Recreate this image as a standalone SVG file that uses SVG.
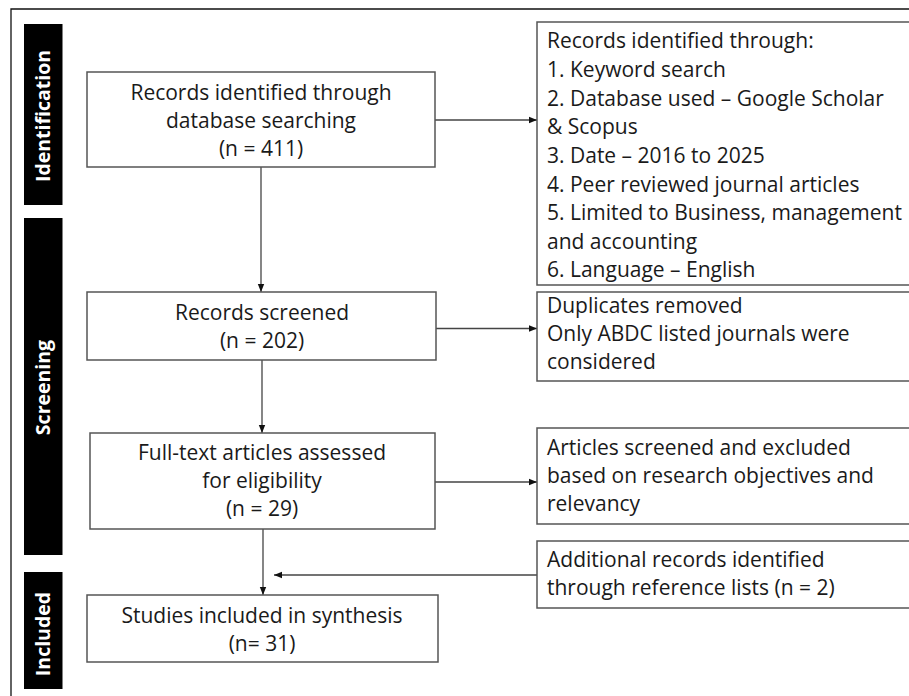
<svg xmlns="http://www.w3.org/2000/svg" width="909" height="696" viewBox="0 0 909 696">
<style>
  .box { fill: #fff; stroke: #555; stroke-width: 1.5; }
  .bar { fill: #000; }
  .t { font-family: "Open Sans", "Noto Sans", sans-serif; font-size: 21px; fill: #1a1a1a; }
  .c { text-anchor: middle; }
  .side { font-family: "Open Sans", "Noto Sans", sans-serif; font-size: 19.5px; font-weight: bold; fill: #fff; text-anchor: middle; }
  .conn { stroke: #444; stroke-width: 1.3; fill: none; }
</style>
<defs>
  <marker id="arr" viewBox="0 0 8 8" refX="8" refY="4" markerWidth="8" markerHeight="8" markerUnits="userSpaceOnUse" orient="auto">
    <path d="M0,0.8 L8,4 L0,7.2 Z" fill="#111"/>
  </marker>
</defs>
<rect x="0" y="0" width="909" height="696" fill="#fff"/>
<g id="frame">
  <path d="M11,696 L11,9 L909,9" fill="none" stroke="#111" stroke-width="1.3"/>
</g>
<g id="bar-identification">
  <rect class="bar" x="24" y="24" width="38.5" height="181"/>
  <text class="side" transform="translate(50,116) rotate(-90)">Identification</text>
</g>
<g id="bar-screening">
  <rect class="bar" x="24" y="218" width="38.5" height="337"/>
  <text class="side" transform="translate(50,387.5) rotate(-90)">Screening</text>
</g>
<g id="bar-included">
  <rect class="bar" x="24" y="572" width="38.5" height="117"/>
  <text class="side" transform="translate(50,634) rotate(-90)">Included</text>
</g>
<g id="connectors">
  <line class="conn" x1="261" y1="167" x2="261" y2="292" marker-end="url(#arr)"/>
  <line class="conn" x1="262" y1="360" x2="262" y2="433" marker-end="url(#arr)"/>
  <line class="conn" x1="263" y1="529" x2="263" y2="595" marker-end="url(#arr)"/>
  <line class="conn" x1="435" y1="120" x2="537" y2="120" marker-end="url(#arr)"/>
  <line class="conn" x1="436" y1="328.5" x2="537" y2="328.5" marker-end="url(#arr)"/>
  <line class="conn" x1="435" y1="482" x2="537" y2="482" marker-end="url(#arr)"/>
  <line class="conn" x1="537" y1="575" x2="274" y2="575" marker-end="url(#arr)"/>
</g>
<g id="node-identified">
  <rect class="box" x="87" y="72" width="348" height="95"/>
  <text class="t c" x="261" y="100">Records identified through</text>
  <text class="t c" x="261" y="128">database searching</text>
  <text class="t c" x="261" y="156">(n = 411)</text>
</g>
<g id="node-screened">
  <rect class="box" x="87" y="292" width="349" height="68"/>
  <text class="t c" x="262" y="320">Records screened</text>
  <text class="t c" x="262" y="348">(n = 202)</text>
</g>
<g id="node-fulltext">
  <rect class="box" x="90" y="433" width="345" height="96"/>
  <text class="t c" x="262" y="460">Full-text articles assessed</text>
  <text class="t c" x="262" y="488">for eligibility</text>
  <text class="t c" x="262" y="516">(n = 29)</text>
</g>
<g id="node-included">
  <rect class="box" x="87" y="595" width="351" height="67"/>
  <text class="t c" x="262" y="623">Studies included in synthesis</text>
  <text class="t c" x="262" y="651">(n= 31)</text>
</g>
<g id="node-criteria">
  <rect class="box" x="537" y="22" width="390" height="263"/>
  <text class="t" x="547" y="48">Records identified through:</text>
  <text class="t" x="547" y="77">1. Keyword search</text>
  <text class="t" x="547" y="105.5">2. Database used – Google Scholar</text>
  <text class="t" x="547" y="134">&amp; Scopus</text>
  <text class="t" x="547" y="163">3. Date – 2016 to 2025</text>
  <text class="t" x="547" y="191.5">4. Peer reviewed journal articles</text>
  <text class="t" x="547" y="220">5. Limited to Business, management</text>
  <text class="t" x="547" y="248.5">and accounting</text>
  <text class="t" x="547" y="277">6. Language – English</text>
</g>
<g id="node-duplicates">
  <rect class="box" x="537" y="292" width="390" height="89"/>
  <text class="t" x="547" y="313">Duplicates removed</text>
  <text class="t" x="547" y="341">Only ABDC listed journals were</text>
  <text class="t" x="547" y="369">considered</text>
</g>
<g id="node-excluded">
  <rect class="box" x="537" y="428" width="390" height="96"/>
  <text class="t" x="547" y="455">Articles screened and excluded</text>
  <text class="t" x="547" y="483">based on research objectives and</text>
  <text class="t" x="547" y="511">relevancy</text>
</g>
<g id="node-additional">
  <rect class="box" x="537" y="541" width="390" height="67"/>
  <text class="t" x="547" y="567">Additional records identified</text>
  <text class="t" x="547" y="595">through reference lists (n = 2)</text>
</g>
</svg>
